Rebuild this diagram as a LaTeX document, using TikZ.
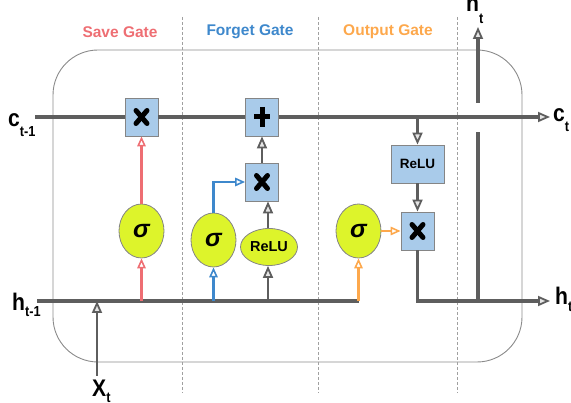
\documentclass[tikz,border=0pt]{standalone}
\usepackage{fontspec}
\setmainfont{Liberation Sans}
\usetikzlibrary{arrows.meta,shapes.geometric,calc}
\definecolor{lineg}{HTML}{5E5E5E}
\definecolor{frameg}{HTML}{8A8A8A}
\definecolor{dashg}{HTML}{A0A0A0}
\definecolor{boxfill}{HTML}{A9CBEA}
\definecolor{boxline}{HTML}{858585}
\definecolor{ellfill}{HTML}{DDF42B}
\definecolor{sred}{HTML}{EE6E73}
\definecolor{fblue}{HTML}{3E88CC}
\definecolor{oorange}{HTML}{FDA84C}
\newcommand\lstk[3]{\scalebox{0.88}[1]{{\fontsize{24}{24}\selectfont #1}\raisebox{-#3pt}{\fontsize{14.5}{14.5}\selectfont #2}}}
\begin{document}
\begin{tikzpicture}[x=1pt,y=-1pt,
  every node/.style={font=\bfseries},
  flow/.style={line width=3.2pt, draw=lineg},
  thin flow/.style={line width=2.5pt, draw=lineg},
  rline/.style={line width=2.2pt, draw=sred},
  bline/.style={line width=2.2pt, draw=fblue},
  oline/.style={line width=2.2pt, draw=oorange},
  arr/.style={-{Triangle[length=12pt,width=10pt,line width=1.8pt,fill=white!80!gray]}},
  carr/.style={-{Triangle[length=10pt,width=8.5pt,line width=1.6pt,fill=white]}},
  opbox/.style={draw=boxline, line width=0.8pt, fill=boxfill, minimum width=33pt, minimum height=38pt, inner sep=0pt},
  mulbox/.style={opbox, path picture={
      \draw[line width=5pt, line cap=round, black]
        ([shift={(-5.5,-6.5)}]path picture bounding box.center) -- ([shift={(5.5,6.5)}]path picture bounding box.center)
        ([shift={(-5.5,6.5)}]path picture bounding box.center) -- ([shift={(5.5,-6.5)}]path picture bounding box.center);}},
  addbox/.style={opbox, path picture={
      \draw[line width=5pt, black]
        ([shift={(-8,0)}]path picture bounding box.center) -- ([shift={(8,0)}]path picture bounding box.center)
        ([shift={(0,-10)}]path picture bounding box.center) -- ([shift={(0,10)}]path picture bounding box.center);}},
  sig/.style={ellipse, draw=boxline, line width=0.8pt, fill=ellfill, minimum width=45pt, minimum height=54pt, inner sep=0pt, font=\fontsize{25}{25}\selectfont\bfseries\itshape},
  relue/.style={ellipse, draw=boxline, line width=0.8pt, fill=ellfill, minimum width=57pt, minimum height=37pt, inner sep=0pt, font=\fontsize{14.5}{14.5}\selectfont\bfseries},
  title/.style={font=\fontsize{15.5}{15.5}\selectfont\bfseries},
  lbl/.style={anchor=base west, inner sep=0pt}
]
\useasboundingbox (0,0) rectangle (571,403);
% frame and separators
\draw[frameg, line width=0.9pt, rounded corners=45pt] (53,50) rectangle (522,362);
\foreach \xx in {182,318,457}
  \draw[dashg, line width=0.9pt, dash pattern=on 3pt off 2pt] (\xx,17) -- (\xx,393);
% titles
\node[title, text=sred] (tS) at (120,32) {Save Gate};
\node[title, text=fblue] (tF) at (250,32) {Forget Gate};
\node[title, text=oorange] (tO) at (388,32) {Output Gate};
% nodes
\node[mulbox] (mulS) at (141.5,117) {};
\node[addbox] (plus) at (262,117) {};
\node[mulbox] (mulF) at (262,182) {};
\node[sig] (sigS) at (141.5,231) {σ};
\node[sig] (sigF) at (213.5,240) {σ};
\node[relue] (reluE) at (269,247) {ReLU};
\node[sig] (sigO) at (358.5,231) {σ};
\node[opbox, minimum width=53pt, font=\fontsize{13.5}{13.5}\selectfont\bfseries] (reluB) at (417.5,164) {ReLU};
\node[mulbox] (mulO) at (417.5,231) {};
% labels
\node[lbl] (lc1) at (8,127) {\lstk{c}{t-1}{10}};
\node[lbl] (lh1) at (12,311) {\lstk{h}{t-1}{6}};
\node[lbl] (lx) at (92,397) {\lstk{X}{t}{6}};
\node[lbl] (lct) at (553,122) {\lstk{c}{t}{10}};
\node[lbl] (lht) at (555,305) {\lstk{h}{t}{7}};
\node[lbl] (lhtop) at (466,12) {\lstk{h}{t}{12}};
% coordinates
\coordinate (cin) at (35,117);
\coordinate (cout) at (550,117);
\coordinate (csplit) at (417.5,117);
\coordinate (hin) at (37,301);
\coordinate (hS) at (141.5,301);
\coordinate (hF) at (213.5,301);
\coordinate (hR) at (268,301);
\coordinate (hO) at (358.5,301);
\coordinate (hout) at (550,301);
\coordinate (hup) at (478,301);
\coordinate (gapA) at (478,132);
\coordinate (gapB) at (478,103);
\coordinate (htop) at (478,27);
\coordinate (xin) at (97,376);
\coordinate (xh) at (97,301);
% cell state line
\draw[flow] (cin) -- (mulS.west);
\draw[flow] (mulS.east) -- (plus.west);
\draw[flow, arr] (plus.east) -- (cout);
% hidden line
\draw[flow] (hin) -- (hO);
\draw[thin flow, arr] (xin) -- (xh);
% save gate
\draw[rline, carr] (hS) -- (sigS.south);
\draw[rline, carr] (sigS.north) -- (mulS.south);
% forget gate
\draw[bline, carr] (hF) -- (sigF.south);
\draw[bline, carr] (sigF.north) |- (mulF.west);
\draw[thin flow, arr] (hR) -- (hR |- reluE.south);
\draw[thin flow, arr] (hR |- reluE.north) -- (hR |- mulF.south);
\draw[thin flow, arr] (mulF.north) -- (plus.south);
% output gate
\draw[oline, carr] (hO) -- (sigO.south);
\draw[oline, carr] (sigO.east) -- (mulO.west);
\draw[thin flow, arr] (csplit) -- (reluB.north);
\draw[thin flow, arr] (reluB.south) -- (mulO.north);
\draw[flow, arr] (mulO.south) |- (hout);
% h_t upward
\draw[flow] (hup) -- (gapA);
\draw[flow, arr] (gapB) -- (htop);
\end{tikzpicture}
\end{document}
